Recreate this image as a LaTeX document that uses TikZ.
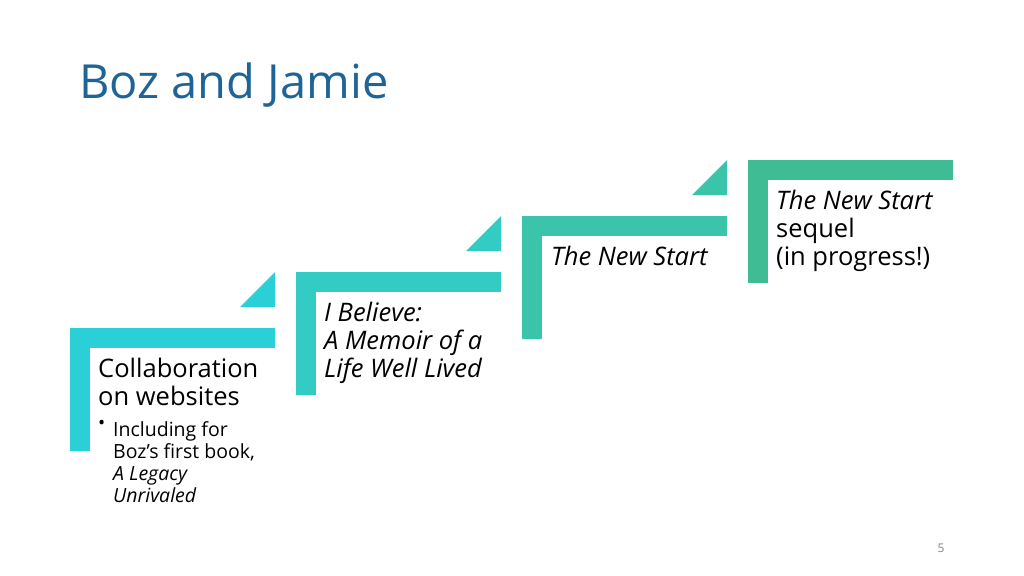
\documentclass[tikz,border=0pt]{standalone}
\usepackage{fontspec}
\setmainfont{Open Sans}
\definecolor{titleblue}{HTML}{1F6497}
\definecolor{stepA}{HTML}{2BCFD8}
\definecolor{stepB}{HTML}{33CCC4}
\definecolor{stepC}{HTML}{3AC4AA}
\definecolor{stepD}{HTML}{40BC94}
\begin{document}
\begin{tikzpicture}[x=1pt,y=-1pt]
\tikzset{ txt/.style={anchor=north west, align=left, inner sep=0pt, font=\fontsize{25.5}{28}\selectfont} }

\useasboundingbox (0,0) rectangle (1024,575);

\node [anchor=base west, inner sep=0pt, text=titleblue, font=\fontsize{47}{50}\selectfont] (title) at (79,99) {Boz and Jamie};

% steps
\foreach \i/\c in {0/stepA, 1/stepB, 2/stepC, 3/stepD} {
  \fill [\c] ({70+226*\i},{328-56*\i}) rectangle ++(205,20);
  \fill [\c] ({70+226*\i},{328-56*\i}) rectangle ++(20,123);
}
\foreach \i/\c in {0/stepA, 1/stepB, 2/stepC} {
  \fill [\c] ({240+226*\i},{307-56*\i}) -- ++(35,0) -- ++(0,-35) -- cycle;
}

\node [txt] (collab) at (98,358) {Collaboration\\on websites};
\node [anchor=north west, inner sep=0pt, font=\fontsize{19}{22}\selectfont] (bullet) at (98,420) {\textbullet};
\node [anchor=north west, align=left, inner sep=0pt, font=\fontsize{19.5}{22}\selectfont] (legacy) at (113,421)
  {Including for\\Boz’s first book,\\\textit{A Legacy}\\\textit{Unrivaled}};
\node [txt, font=\itshape\fontsize{25.5}{28}\selectfont] (believe) at (324,302) {I Believe:\\A Memoir of a\\Life Well Lived};
\node [txt, font=\itshape\fontsize{25.5}{28}\selectfont] (newstart) at (551,246) {The New Start};
\node [txt] (sequel) at (776,190) {\textit{The New Start}\\sequel\\(in progress!)};

\node [inner sep=0pt, text=gray, font=\fontsize{12}{14}\selectfont] (page) at (941,548) {5};

\end{tikzpicture}
\end{document}
